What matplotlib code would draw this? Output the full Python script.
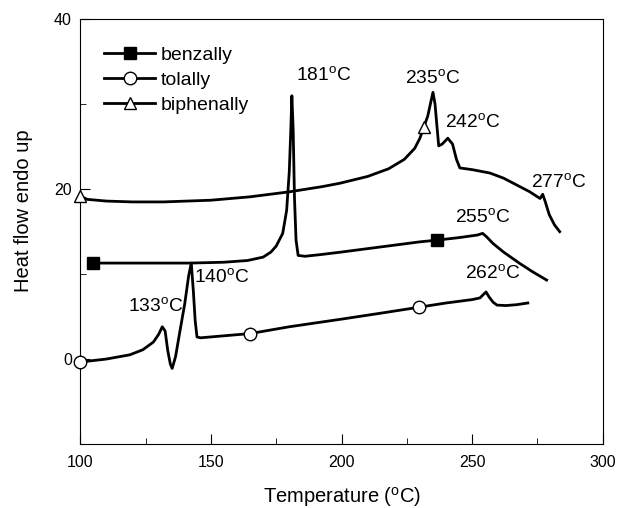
import matplotlib
matplotlib.use('Agg')
import matplotlib.pyplot as plt
from matplotlib.lines import Line2D

plt.rcParams['font.family'] = 'Liberation Sans'
plt.rcParams['mathtext.fontset'] = 'custom'
plt.rcParams['mathtext.rm'] = 'Liberation Sans'

# DSC traces
benz_x = [105, 120, 142, 155, 164, 170, 173, 175, 177.5, 179, 180, 180.6, 181, 181.5, 182,
          182.6, 183.4, 186, 192, 200, 210, 220, 230, 236.5, 245, 252, 254, 255.5, 258, 262,
          268, 273, 278.5]
benz_y = [11.3, 11.3, 11.3, 11.4, 11.6, 12.0, 12.6, 13.3, 14.8, 17.5, 22, 27, 31.0, 27, 19,
          14, 12.2, 12.1, 12.3, 12.6, 13.0, 13.4, 13.8, 14.0, 14.3, 14.6, 14.8, 14.4, 13.6, 12.6,
          11.3, 10.3, 9.3]
benz_mark = [105, 236.5]

tol_x = [100, 110, 119, 124, 128, 130, 131.4, 132.5, 133.5, 134.5, 135.2, 136.5, 138, 140,
         141.5, 142.5, 143.3, 144, 144.7, 146, 165, 180, 200, 215, 229.6, 240, 250, 253,
         254.3, 255.3, 256.5, 258, 259.5, 263, 267, 271.3]
tol_y = [-0.35, 0.0, 0.5, 1.1, 2.0, 2.9, 3.8, 3.3, 1.0, -0.6, -1.1, 0.3, 3.0, 6.5,
         9.8, 11.3, 8.0, 4.5, 2.6, 2.5, 3.0, 3.8, 4.7, 5.4, 6.1, 6.6, 7.0, 7.2,
         7.6, 7.9, 7.3, 6.7, 6.35, 6.3, 6.4, 6.6]
tol_mark = [100, 165, 229.6]

biph_x = [100, 102.7, 110, 120, 131.8, 150, 165, 180.3, 192.6, 199.4, 210, 218, 224, 228,
          230, 231.5, 233, 234.2, 235, 235.8, 236.5, 237.2, 238.5, 240.7, 242.5, 244, 245.3,
          250, 256.8, 262, 267, 272, 276, 277, 278, 279.5, 281.5, 283.5]
biph_y = [19.2, 18.8, 18.6, 18.5, 18.5, 18.7, 19.1, 19.7, 20.3, 20.7, 21.5, 22.4, 23.5, 24.8,
          26.0, 27.3, 28.6, 30.3, 31.4, 30.0, 27.5, 25.1, 25.3, 26.0, 25.3, 23.5, 22.5,
          22.3, 21.9, 21.3, 20.5, 19.7, 18.9, 19.4, 18.5, 17.0, 15.8, 15.0]
biph_mark = [100, 231.5]

# peak labels
peak_text = ['181', '235', '242', '277', '255', '262', '140', '133']
peak_x = [193, 235, 250, 283, 254, 258, 154, 128.8]
peak_y = [33.4, 33.0, 27.8, 20.8, 16.7, 10.0, 9.6, 6.2]

fig, ax = plt.subplots(figsize=(6.17, 5.08), dpi=100)
fig.subplots_adjust(left=0.13, right=0.977, top=0.962, bottom=0.126)

ax.plot(benz_x, benz_y, color='black', lw=2, marker='s', ms=8, mfc='black', mec='black',
        markevery=[benz_x.index(v) for v in benz_mark], clip_on=False, zorder=3)
ax.plot(tol_x, tol_y, color='black', lw=2, marker='o', ms=9, mfc='white', mec='black',
        markevery=[tol_x.index(v) for v in tol_mark], clip_on=False, zorder=3)
ax.plot(biph_x, biph_y, color='black', lw=2, marker='^', ms=9, mfc='white', mec='black',
        markevery=[biph_x.index(v) for v in biph_mark], clip_on=False, zorder=3)

for t, x, y in zip(peak_text, peak_x, peak_y):
    ax.text(x, y, t + r'$^{\mathrm{o}}$C', ha='center', va='center', fontsize=13.8)

handles = [Line2D([], [], color='black', lw=2, marker='s', ms=8, mfc='black'),
           Line2D([], [], color='black', lw=2, marker='o', ms=9, mfc='white'),
           Line2D([], [], color='black', lw=2, marker='^', ms=9, mfc='white')]
ax.legend(handles, ['benzally', 'tolally', 'biphenally'], loc='upper left',
          bbox_to_anchor=(0.046, 0.936), frameon=False, fontsize=14,
          handlelength=2.6, handletextpad=0.3, labelspacing=0.38, borderaxespad=0,
          borderpad=0)

ax.set_xlim(100, 300)
ax.set_ylim(-10, 40)
ax.set_xticks([100, 150, 200, 250, 300])
ax.set_xticks([125, 175, 225, 275], minor=True)
ax.set_yticks([0, 20, 40])
ax.set_yticks([-10, 10, 30], minor=True)
ax.tick_params(which='both', direction='in', labelsize=11.5)
ax.tick_params(axis='x', which='major', pad=8)
ax.tick_params(axis='y', which='major', pad=6)
ax.tick_params(which='major', length=7)
ax.tick_params(which='minor', length=4)
ax.set_xlabel(r'Temperature ($^{\mathrm{o}}$C)', fontsize=14.5, labelpad=11)
ax.set_ylabel('Heat flow endo up', fontsize=14.5, labelpad=15)
ax.yaxis.label.set_y(0.55)

fig.savefig('out.png', dpi=100)
